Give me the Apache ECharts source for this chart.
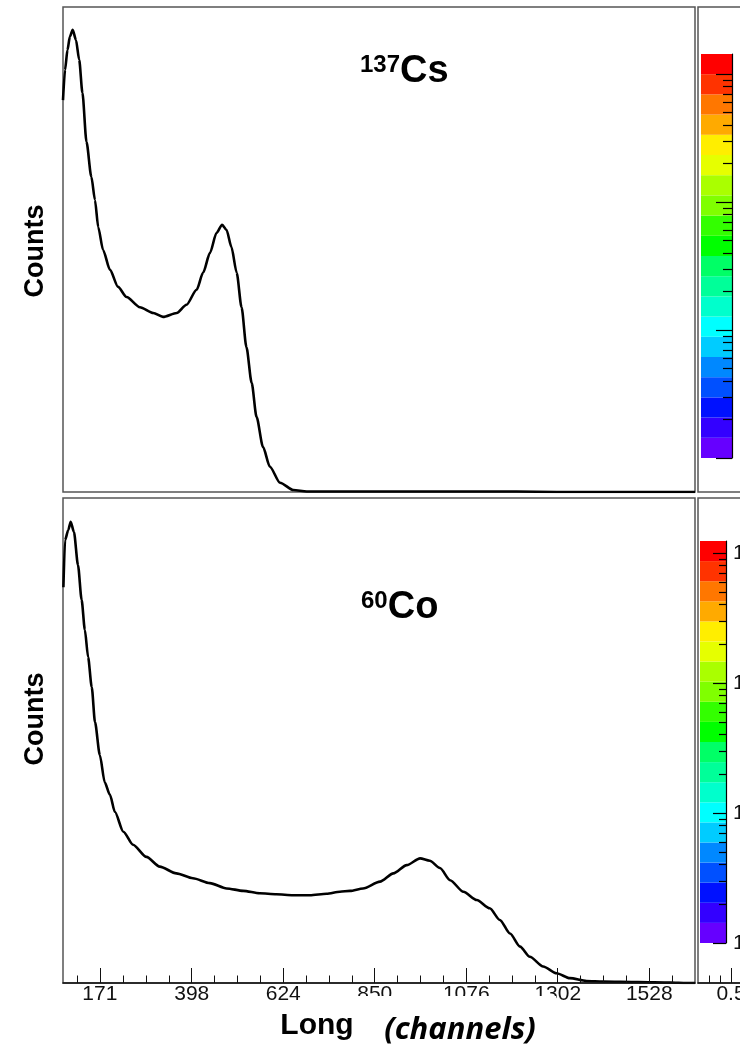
<!DOCTYPE html>
<html><head><meta charset="utf-8">
<script src="https://cdn.jsdelivr.net/npm/echarts@6/dist/echarts.min.js"></script>
<style>html,body{margin:0;padding:0;background:#fff}#chart{width:740px;height:1047px}</style>
</head><body><div id="chart"></div>
<script>
// ---- x axis (Long, channels) ----
const xTickValues = [171, 398, 624, 850, 1076, 1302, 1528];
const xTickLabels = ['171', '398', '624', '850', '1076', '1302', '1528'];
const xMinorTicks = [114.5, 227.75, 284.5, 341.25, 454.5, 511, 567.5, 680.5, 737, 793.5,
  906.5, 963, 1019.5, 1132.5, 1189, 1245.5, 1358.5, 1415, 1471.5, 1584.5];

// ---- 137Cs spectrum (channel, counts in arbitrary units) ----
const csChannels = [80, 85, 91, 97, 104, 112, 120, 128, 138, 150, 159, 167, 179, 196, 216, 237, 270, 303, 327, 361,
  385, 410, 426, 443, 459, 473, 484, 496, 509, 521, 533, 546, 558, 574, 591, 616, 649, 682, 800, 1000, 1200, 1300, 1641];
const csCounts = [808, 870, 911, 939, 953, 932, 891, 823, 722, 650, 602, 546, 499, 458, 423, 402, 381, 369, 361, 369,
  386, 417, 452, 493, 534, 551, 540, 505, 452, 381, 299, 225, 155, 93, 52, 19, 4, 1, 1, 1, 1, 0, 0];

// ---- 60Co spectrum ----
const coChannels = [81, 85, 93, 99, 107, 117, 126, 134, 142, 151, 159, 171, 183, 196, 208, 229, 253, 286, 319, 360,
  401, 443, 484, 525, 566, 607, 648, 690, 731, 764, 789, 821, 863, 896, 929, 962, 986, 1011, 1036, 1069,
  1102, 1134, 1159, 1184, 1209, 1233, 1266, 1299, 1332, 1373, 1414, 1500, 1580, 1620, 1641];
const coCounts = [816, 913, 934, 951, 930, 862, 790, 728, 672, 610, 538, 470, 414, 388, 353, 312, 285, 260, 240, 226,
  216, 206, 195, 190, 185, 183, 181, 181, 184, 188, 190, 195, 209, 226, 243, 257, 252, 237, 212, 188,
  171, 154, 130, 102, 75, 54, 34, 20, 10, 4, 3, 2, 1, 0, 0];

// ---- colour palette (bottom -> top) and colour-bar axis ----
const paletteColors = ['#6600ff', '#3300ff', '#0011ff', '#0050ff', '#0088ff', '#00ccff', '#00ffff', '#00ffcc',
  '#00ff99', '#00ff66', '#00ff00', '#33ff00', '#80ff00', '#aaff00', '#e6ff00', '#ffee00', '#ffaa00', '#ff7700',
  '#ff3300', '#ff0000'];
const zMajorTicks = [1, 10, 100, 1000];
const zMajorLabels = ['1', '10', '10\u00b2', '10\u00b3'];
const zMinorTicks = [2, 3, 4, 5, 6, 7, 8, 9, 20, 30, 40, 50, 60, 70, 80, 90, 200, 300, 400, 500, 600, 700, 800, 900];
const zMaxTop = 1432;
const zMaxBottom = 1236;

// ---- right panel x axis ----
const sideMajorTicks = [0.5];
const sideMinorTicks = [0.3, 0.4];

const csData = csChannels.map((c, i) => [c, csCounts[i]]);
const coData = coChannels.map((c, i) => [c, coCounts[i]]);
const bandData = paletteColors.map((c, i) => [0, i]);

const FONT = 'Liberation Sans';
const FRAME = '#555';

function bandRender(params, api) {
  const i = api.value(1);
  const p0 = api.coord([0, i]);
  const p1 = api.coord([1, i + 1]);
  return {
    type: 'rect',
    shape: { x: p0[0], y: p1[1], width: p1[0] - p0[0], height: p0[1] - p1[1] },
    style: { fill: paletteColors[i] }
  };
}

function gridBase(o) {
  return Object.assign({ outerBoundsMode: 'none', containLabel: false }, o);
}

function hiddenValue(grid, min, max, extra) {
  return Object.assign({ gridIndex: grid, type: 'value', min: min, max: max, show: false }, extra || {});
}

const titleRich = {
  s: { fontSize: 24, fontWeight: 'bold', fontFamily: FONT, color: '#000', lineHeight: 24, verticalAlign: 'top' },
  m: { fontSize: 38, fontWeight: 'bold', fontFamily: FONT, color: '#000', lineHeight: 38 }
};

const option = {
  animation: false,
  backgroundColor: '#ffffff',
  title: [
    { text: '{s|137}{m|Cs}', left: 360, top: 53, padding: 0, textStyle: { rich: titleRich } },
    { text: '{s|60}{m|Co}', left: 361, top: 589, padding: 0, textStyle: { rich: titleRich } }
  ],
  grid: [
    gridBase({ left: 63, top: 7, width: 632, height: 485, show: true, borderColor: FRAME, borderWidth: 1.5 }),
    gridBase({ left: 63, top: 498, width: 632, height: 485, show: true, borderColor: FRAME, borderWidth: 1.5 }),
    gridBase({ left: 701, top: 54, width: 31, height: 404, show: false }),
    gridBase({ left: 700, top: 541, width: 26, height: 402, show: false }),
    gridBase({ left: 698, top: 7, width: 100, height: 485, show: true, borderColor: FRAME, borderWidth: 1.5 }),
    gridBase({ left: 698, top: 498, width: 100, height: 485, show: true, borderColor: FRAME, borderWidth: 1.5 })
  ],
  xAxis: [
    hiddenValue(0, 80, 1641),
    {
      gridIndex: 1, type: 'value', min: 80, max: 1641, position: 'bottom', z: 6,
      axisLine: { show: true, onZero: false, lineStyle: { color: '#111', width: 1.5 } },
      axisTick: { show: true, inside: true, length: 7.5, customValues: xMinorTicks, lineStyle: { color: '#111', width: 1 } },
      axisLabel: { show: false }, splitLine: { show: false }
    },
    {
      gridIndex: 1, type: 'value', min: 80, max: 1641, position: 'bottom', z: 6,
      axisLine: { show: false, onZero: false },
      axisTick: { show: true, inside: true, length: 15, customValues: xTickValues, lineStyle: { color: '#111', width: 1 } },
      axisLabel: {
        show: true, customValues: xTickValues, margin: 1, fontSize: 21, fontFamily: FONT, color: '#111',
        formatter: function (v) { const k = xTickValues.indexOf(v); return k >= 0 ? xTickLabels[k] : String(v); }
      },
      splitLine: { show: false }
    },
    hiddenValue(2, 0, 1),
    hiddenValue(3, 0, 1),
    hiddenValue(4, 0, 1),
    {
      gridIndex: 5, type: 'value', min: 0.2, max: 1.109, position: 'bottom', z: 6,
      axisLine: { show: true, onZero: false, lineStyle: { color: '#111', width: 1.5 } },
      axisTick: { show: true, inside: true, length: 15, customValues: sideMajorTicks, lineStyle: { color: '#111', width: 1 } },
      axisLabel: { show: true, customValues: sideMajorTicks, margin: 1, fontSize: 21, fontFamily: FONT, color: '#111' },
      splitLine: { show: false }
    },
    {
      gridIndex: 5, type: 'value', min: 0.2, max: 1.109, position: 'bottom', z: 6,
      axisLine: { show: false, onZero: false },
      axisTick: { show: true, inside: true, length: 7.5, customValues: sideMinorTicks, lineStyle: { color: '#111', width: 1 } },
      axisLabel: { show: false }, splitLine: { show: false }
    }
  ],
  yAxis: [
    hiddenValue(0, 0, 1000),
    hiddenValue(1, 0, 1000),
    hiddenValue(2, 0, paletteColors.length, { position: 'left' }),
    {
      gridIndex: 2, type: 'log', logBase: 10, min: 1, max: zMaxTop, position: 'right', z: 6,
      axisLine: { show: true, onZero: false, lineStyle: { color: '#000', width: 1.2 } },
      axisTick: { show: true, inside: true, length: 16, customValues: zMajorTicks, lineStyle: { color: '#000', width: 1.2 } },
      axisLabel: { show: false }, splitLine: { show: false }
    },
    {
      gridIndex: 2, type: 'log', logBase: 10, min: 1, max: zMaxTop, position: 'right', z: 6,
      axisLine: { show: false, onZero: false },
      axisTick: { show: true, inside: true, length: 9, customValues: zMinorTicks, lineStyle: { color: '#000', width: 1.2 } },
      axisLabel: { show: false }, splitLine: { show: false }
    },
    hiddenValue(3, 0, paletteColors.length, { position: 'left' }),
    {
      gridIndex: 3, type: 'log', logBase: 10, min: 1, max: zMaxBottom, position: 'right', z: 6,
      axisLine: { show: true, onZero: false, lineStyle: { color: '#000', width: 1.2 } },
      axisTick: { show: true, inside: true, length: 13, customValues: zMajorTicks, lineStyle: { color: '#000', width: 1.2 } },
      axisLabel: {
        show: true, customValues: zMajorTicks, inside: false, margin: 7, fontSize: 21, fontFamily: FONT, color: '#111',
        formatter: function (v) { const k = zMajorTicks.indexOf(v); return k >= 0 ? zMajorLabels[k] : String(v); }
      },
      splitLine: { show: false }
    },
    {
      gridIndex: 3, type: 'log', logBase: 10, min: 1, max: zMaxBottom, position: 'right', z: 6,
      axisLine: { show: false, onZero: false },
      axisTick: { show: true, inside: true, length: 7, customValues: zMinorTicks, lineStyle: { color: '#000', width: 1.2 } },
      axisLabel: { show: false }, splitLine: { show: false }
    },
    hiddenValue(4, 0, 1),
    hiddenValue(5, 0, 1)
  ],
  series: [
    { type: 'line', xAxisIndex: 0, yAxisIndex: 0, data: csData, showSymbol: false, symbol: 'none',
      smooth: 0.25, smoothMonotone: 'x', lineStyle: { color: '#000', width: 2.6 }, clip: true, z: 5 },
    { type: 'line', xAxisIndex: 1, yAxisIndex: 1, data: coData, showSymbol: false, symbol: 'none',
      smooth: 0.25, smoothMonotone: 'x', lineStyle: { color: '#000', width: 2.6 }, clip: true, z: 5 },
    { type: 'custom', xAxisIndex: 3, yAxisIndex: 2, data: bandData, renderItem: bandRender, z: 1 },
    { type: 'custom', xAxisIndex: 4, yAxisIndex: 5, data: bandData, renderItem: bandRender, z: 1 }
  ],
  graphic: [
    { type: 'text', x: 36, y: 251, rotation: Math.PI / 2, z: 10,
      style: { text: 'Counts', fontSize: 27, fontWeight: 'bold', fontFamily: FONT, fill: '#000', align: 'center', verticalAlign: 'middle' } },
    { type: 'text', x: 36, y: 719, rotation: Math.PI / 2, z: 10,
      style: { text: 'Counts', fontSize: 27, fontWeight: 'bold', fontFamily: FONT, fill: '#000', align: 'center', verticalAlign: 'middle' } },
    { type: 'text', x: 317, y: 1026, z: 10,
      style: { text: 'Long', fontSize: 30, fontWeight: 'bold', fontFamily: FONT, fill: '#000', align: 'center', verticalAlign: 'middle' } },
    { type: 'rect', shape: { x: 355, y: 996, width: 201, height: 51 }, style: { fill: '#ffffff' }, z: 100 },
    { type: 'text', x: 460, y: 1030, z: 101,
      style: { text: '(channels)', fontSize: 31, fontWeight: 'bold', fontStyle: 'italic', fontFamily: 'Open Sans', fill: '#000', align: 'center', verticalAlign: 'middle' } }
  ]
};

const chart = echarts.init(document.getElementById('chart'), null, { renderer: 'canvas' });
chart.setOption(option);
</script>
</body></html>
